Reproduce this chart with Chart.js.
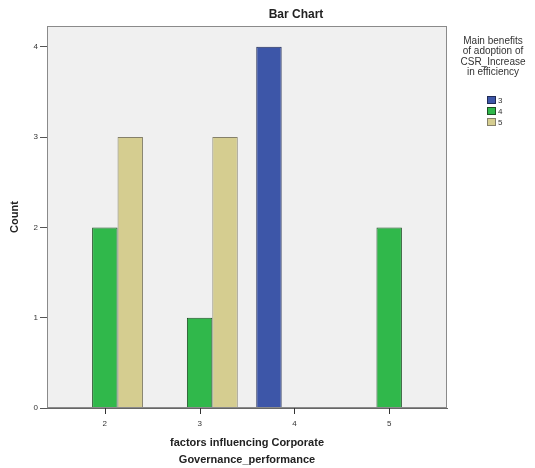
<!DOCTYPE html>
<html>
<head>
<meta charset="utf-8">
<title>Bar Chart</title>
<script src="https://cdn.jsdelivr.net/npm/chart.js@4/dist/chart.umd.min.js"></script>
<style>
  html, body { margin: 0; padding: 0; background: #ffffff; }
  #wrap { width: 535px; height: 468px; }
</style>
</head>
<body>
<div id="wrap"><canvas id="chart" width="535" height="468"></canvas></div>
<script>
    'use strict';

    // categories on the x axis (factors influencing Corporate Governance_performance)
    const categories = [2, 3, 4, 5];
    // one series per legend entry (Main benefits of adoption of CSR_Increase in efficiency)
    const seriesNames = ['3', '4', '5'];
    const counts3 = [null, null, 4, null];
    const counts4 = [2, 1, null, 2];
    const counts5 = [3, 3, null, null];
    const yTicks = [0, 1, 2, 3, 4];

    const titleText = 'Bar Chart';
    const legendTitle = ['Main benefits', 'of adoption of', 'CSR_Increase', 'in efficiency'];
    const xTitle = ['factors influencing Corporate', 'Governance_performance'];
    const yTitle = 'Count';

    const fills = ['#3d56a8', '#30b84b', '#d5cd90'];
    const borders = ['#1f2a55', '#1e4f25', '#85806a'];
    const FONT = "'Liberation Sans', Arial, sans-serif";

    // pair each count with its category value
    const toPoints = arr => arr.map((v, i) => ({ x: categories[i], y: v }));

    const seriesData = [counts3, counts4, counts5];

    const datasets = seriesData.map((arr, i) => ({
        label: seriesNames[i],
        data: toPoints(arr),
        backgroundColor: fills[i],
        borderColor: borders[i],
        borderWidth: 1,
        categoryPercentage: 0.805,
        barPercentage: 1
    }));

    // background, frame, x tick marks, title and legend drawn around the chart area
    const spssDecor = {
        id: 'spssDecor',
        beforeDraw: function(chart) {
            const ctx = chart.ctx;
            const a = chart.chartArea;
            ctx.save();
            ctx.fillStyle = '#ffffff';
            ctx.fillRect(0, 0, chart.width, chart.height);
            ctx.fillStyle = '#f0f0f0';
            ctx.fillRect(a.left, a.top, a.right - a.left, a.bottom - a.top);
            ctx.restore();
        },
        afterDatasetsDraw: function(chart) {
            const ctx = chart.ctx;
            const a = chart.chartArea;
            ctx.save();
            ctx.strokeStyle = '#8a8a8a';
            ctx.lineWidth = 1;
            ctx.strokeRect(a.left + 0.5, a.top + 0.5, a.right - a.left - 1, a.bottom - a.top - 1);
            ctx.restore();
        },
        afterDraw: function(chart) {
            const ctx = chart.ctx;
            const a = chart.chartArea;
            const xScale = chart.scales.x;
            ctx.save();

            // tick marks under each category
            ctx.fillStyle = '#333333';
            categories.forEach(c => {
                const px = Math.round(xScale.getPixelForValue(c));
                ctx.fillRect(px, Math.round(a.bottom), 1, 6);
            });

            ctx.fillStyle = '#222222';
            ctx.textAlign = 'center';
            ctx.textBaseline = 'middle';

            // chart title
            ctx.font = 'bold 12px ' + FONT;
            ctx.fillText(titleText, 296, 15);

            // legend title
            ctx.fillStyle = '#333333';
            ctx.font = '10px ' + FONT;
            legendTitle.forEach((line, i) => {
                ctx.fillText(line, 493, 41 + i * 10.5);
            });

            // legend entries
            ctx.textAlign = 'left';
            ctx.font = '8px ' + FONT;
            seriesNames.forEach((name, i) => {
                const y = 96 + i * 11;
                ctx.fillStyle = fills[i];
                ctx.fillRect(487, y, 9, 8);
                ctx.strokeStyle = borders[i];
                ctx.lineWidth = 1;
                ctx.strokeRect(487.5, y + 0.5, 8, 7);
                ctx.fillStyle = '#333333';
                ctx.fillText(name, 498, y + 4.5);
            });
            ctx.restore();
        }
    };

    const ctx = document.getElementById('chart').getContext('2d');

    new Chart(ctx, {
        type: 'bar',
        data: { datasets: datasets },
        options: {
            responsive: false,
            animation: false,
            events: [],
            layout: {
                padding: { top: 26, right: 88, left: 0, bottom: 0 }
            },
            scales: {
                x: {
                    type: 'linear',
                    min: 1.39,
                    max: 5.61,
                    offset: false,
                    afterFit: function(scale) { scale.height = 60; },
                    afterBuildTicks: function(scale) {
                        scale.ticks = categories.map(v => ({ value: v }));
                    },
                    ticks: {
                        color: '#333333',
                        font: { family: FONT, size: 8 },
                        padding: 3
                    },
                    grid: { display: false },
                    border: { display: true, color: '#666666' },
                    title: {
                        display: true,
                        text: xTitle,
                        color: '#222222',
                        font: { family: FONT, size: 11, weight: 'bold', lineHeight: 1.5 },
                        padding: { top: 0, bottom: 0 }
                    }
                },
                y: {
                    min: 0,
                    max: 4.23,
                    afterFit: function(scale) { scale.width = 47; },
                    afterBuildTicks: function(scale) {
                        scale.ticks = yTicks.map(v => ({ value: v }));
                    },
                    ticks: {
                        color: '#333333',
                        font: { family: FONT, size: 8 },
                        padding: 2
                    },
                    grid: {
                        drawOnChartArea: false,
                        drawTicks: true,
                        tickLength: 7,
                        color: '#555555'
                    },
                    border: { display: true, color: '#666666' },
                    title: {
                        display: true,
                        text: yTitle,
                        color: '#222222',
                        font: { family: FONT, size: 11, weight: 'bold' },
                        padding: { top: 8, bottom: 0 }
                    }
                }
            },
            plugins: {
                legend: { display: false },
                title: { display: false },
                tooltip: { enabled: false }
            }
        },
        plugins: [spssDecor]
    });
</script>
</body>
</html>
